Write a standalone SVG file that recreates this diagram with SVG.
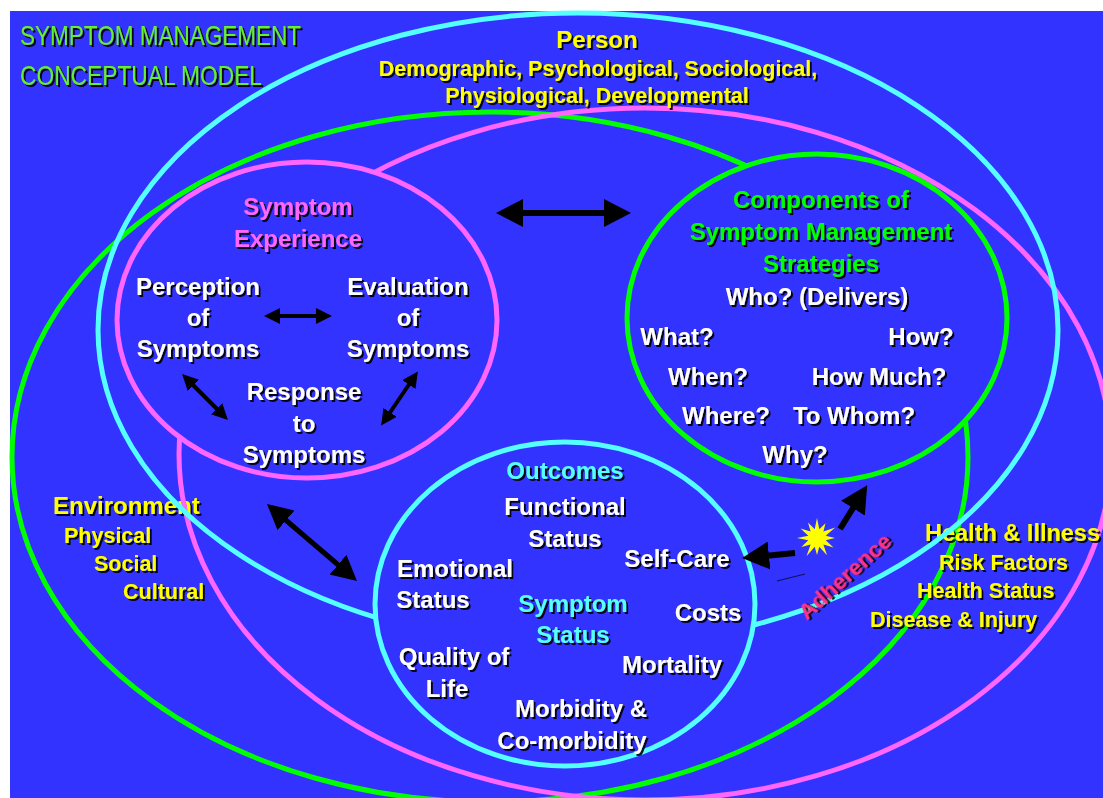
<svg xmlns="http://www.w3.org/2000/svg" width="1103" height="798" viewBox="0 0 1103 798">
  <defs>
    <filter id="sh" x="-10%" y="-20%" width="130%" height="160%">
      <feDropShadow dx="2" dy="2" stdDeviation="0" flood-color="#000" flood-opacity="0.9"/>
    </filter>
    <marker id="big" markerUnits="userSpaceOnUse" markerWidth="28" markerHeight="28" viewBox="0 0 28 28" refX="2" refY="14" orient="auto-start-reverse">
      <path d="M0,0 L27,14 L0,28 z" fill="#000"/>
    </marker>
    <marker id="mid" markerUnits="userSpaceOnUse" markerWidth="26" markerHeight="28" viewBox="0 0 26 28" refX="2" refY="14" orient="auto-start-reverse">
      <path d="M0,1 L25,14 L0,27 z" fill="#000"/>
    </marker>
    <marker id="small" markerUnits="userSpaceOnUse" markerWidth="17" markerHeight="16" viewBox="0 0 17 16" refX="2" refY="8" orient="auto-start-reverse">
      <path d="M0,0 L16,8 L0,16 z" fill="#000"/>
    </marker>
  </defs>
  <style>
    .ring { fill: none; stroke-width: 5; }
    .fillring { fill: #3333FF; stroke-width: 5; }
    .cy { stroke: #55FFFF; }
    .gr { stroke: #00FF00; }
    .pk { stroke: #FF66FF; }
    text { font-family: "Liberation Sans", Arial, sans-serif; font-weight: bold; }
    .lbl { fill: #FFFFFF; font-size: 24px; text-anchor: middle; filter: url(#sh); }
    .pink { fill: #FF66FF; font-size: 24px; text-anchor: middle; filter: url(#sh); }
    .green { fill: #00FF00; font-size: 24px; text-anchor: middle; filter: url(#sh); }
    .cyan { fill: #55FFFF; font-size: 24px; text-anchor: middle; filter: url(#sh); }
    .yel { fill: #FFFF00; filter: url(#sh); }
    .title { fill: #66EE33; font-family: "Liberation Sans Narrow", "Liberation Sans", Arial, sans-serif; font-weight: normal; font-size: 28px; filter: url(#sh); }
    .conn { stroke: #000; fill: none; }
  </style>

  <rect x="0" y="0" width="1103" height="798" fill="#FFFFFF"/>
  <rect x="10" y="11" width="1093" height="787" fill="#3333FF"/>

  <g id="title">
    <text class="title" x="20" y="45" textLength="281" lengthAdjust="spacingAndGlyphs">SYMPTOM MANAGEMENT</text>
    <text class="title" x="20" y="85" textLength="242" lengthAdjust="spacingAndGlyphs">CONCEPTUAL MODEL</text>
  </g>

  <g id="environment">
    <ellipse class="ring gr" cx="490" cy="457" rx="478" ry="345"/>
    <text class="yel" x="53" y="514" font-size="24">Environment</text>
    <text class="yel" x="64" y="543" font-size="21.5">Physical</text>
    <text class="yel" x="94" y="571" font-size="21.5">Social</text>
    <text class="yel" x="123" y="599" font-size="21.5">Cultural</text>
  </g>

  <g id="health-illness">
    <ellipse class="ring pk" cx="645" cy="454" rx="466" ry="346"/>
    <text class="yel" x="925" y="541" font-size="23.5">Health &amp; Illness</text>
    <text class="yel" x="939" y="570" font-size="21.5">Risk Factors</text>
    <text class="yel" x="917" y="598" font-size="21.5">Health Status</text>
    <text class="yel" x="870" y="627" font-size="21.5">Disease &amp; Injury</text>
  </g>

  <g id="person">
    <ellipse class="ring cy" cx="578" cy="330" rx="480" ry="317"/>
    <text class="yel" x="597" y="48" font-size="24" text-anchor="middle">Person</text>
    <text class="yel" x="598" y="76" font-size="21.5" text-anchor="middle">Demographic, Psychological, Sociological,</text>
    <text class="yel" x="597" y="103" font-size="21.5" text-anchor="middle">Physiological, Developmental</text>
  </g>

  <g id="symptom-experience">
    <ellipse class="fillring pk" cx="307" cy="320" rx="190" ry="158"/>
    <text class="pink" x="298" y="215">Symptom</text>
    <text class="pink" x="298" y="247">Experience</text>
    <text class="lbl" x="198" y="295">Perception</text>
    <text class="lbl" x="198" y="326">of</text>
    <text class="lbl" x="198" y="357">Symptoms</text>
    <text class="lbl" x="408" y="295">Evaluation</text>
    <text class="lbl" x="408" y="326">of</text>
    <text class="lbl" x="408" y="357">Symptoms</text>
    <text class="lbl" x="304" y="400">Response</text>
    <text class="lbl" x="304" y="432">to</text>
    <text class="lbl" x="304" y="463">Symptoms</text>
  </g>

  <g id="components">
    <ellipse class="fillring gr" cx="817" cy="318" rx="190" ry="164"/>
    <text class="green" x="821" y="208">Components of</text>
    <text class="green" x="821" y="240" font-size="23.5">Symptom Management</text>
    <text class="green" x="821" y="272">Strategies</text>
    <text class="lbl" x="817" y="305">Who? (Delivers)</text>
    <text class="lbl" x="677" y="345">What?</text>
    <text class="lbl" x="921" y="345">How?</text>
    <text class="lbl" x="708" y="385">When?</text>
    <text class="lbl" x="879" y="385">How Much?</text>
    <text class="lbl" x="726" y="424">Where?</text>
    <text class="lbl" x="854" y="424">To Whom?</text>
    <text class="lbl" x="795" y="463">Why?</text>
  </g>

  <g id="outcomes">
    <ellipse class="fillring cy" cx="565" cy="604" rx="190" ry="162"/>
    <text class="cyan" x="565" y="479">Outcomes</text>
    <text class="lbl" x="565" y="515">Functional</text>
    <text class="lbl" x="565" y="547">Status</text>
    <text class="lbl" x="677" y="567">Self-Care</text>
    <text class="lbl" x="455" y="577">Emotional</text>
    <text class="lbl" x="433" y="608">Status</text>
    <text class="cyan" x="573" y="612">Symptom</text>
    <text class="cyan" x="573" y="643">Status</text>
    <text class="lbl" x="708" y="621">Costs</text>
    <text class="lbl" x="454" y="665">Quality of</text>
    <text class="lbl" x="447" y="697">Life</text>
    <text class="lbl" x="672" y="673">Mortality</text>
    <text class="lbl" x="581" y="717">Morbidity &amp;</text>
    <text class="lbl" x="572" y="749">Co-morbidity</text>
  </g>

  <g id="adherence">
    <polygon fill="#FFFF00" points="817,518 819.3,529.3 825.5,523.3 823.4,531.6 835.2,527.5 825.7,535.7 835,538 825.7,540.3 833.5,547.5 823.4,544.4 827,555.3 819.3,546.7 817,555 814.7,546.7 806.5,556.2 810.6,544.4 801.4,547 808.3,540.3 797,538 808.3,535.7 800.5,528.5 810.6,531.6 808,522.4 814.7,529.3"/>
    <text x="850" y="582" transform="rotate(-42 850 582)" font-size="22.5" fill="#FF3388" text-anchor="middle" filter="url(#sh)">Adherence</text>
  </g>

  <g id="connectors">
    <line class="conn" x1="521" y1="213" x2="606" y2="213" stroke-width="6" marker-start="url(#big)" marker-end="url(#big)"/>
    <line class="conn" x1="278" y1="316" x2="318" y2="316" stroke-width="4" marker-start="url(#small)" marker-end="url(#small)"/>
    <line class="conn" x1="192" y1="384" x2="218" y2="410" stroke-width="4" marker-start="url(#small)" marker-end="url(#small)"/>
    <line class="conn" x1="410" y1="383" x2="389" y2="414" stroke-width="4" marker-start="url(#small)" marker-end="url(#small)"/>
    <line class="conn" x1="284.5" y1="519" x2="339.5" y2="566" stroke-width="5" marker-start="url(#mid)" marker-end="url(#mid)"/>
    <line class="conn" x1="795" y1="553" x2="767" y2="555.7" stroke-width="6" marker-end="url(#big)"/>
    <line class="conn" x1="840" y1="529" x2="854" y2="506.5" stroke-width="6" marker-end="url(#big)"/>
    <line x1="777" y1="581" x2="805" y2="574" stroke="#111155" stroke-width="1.2"/>
  </g>
</svg>
